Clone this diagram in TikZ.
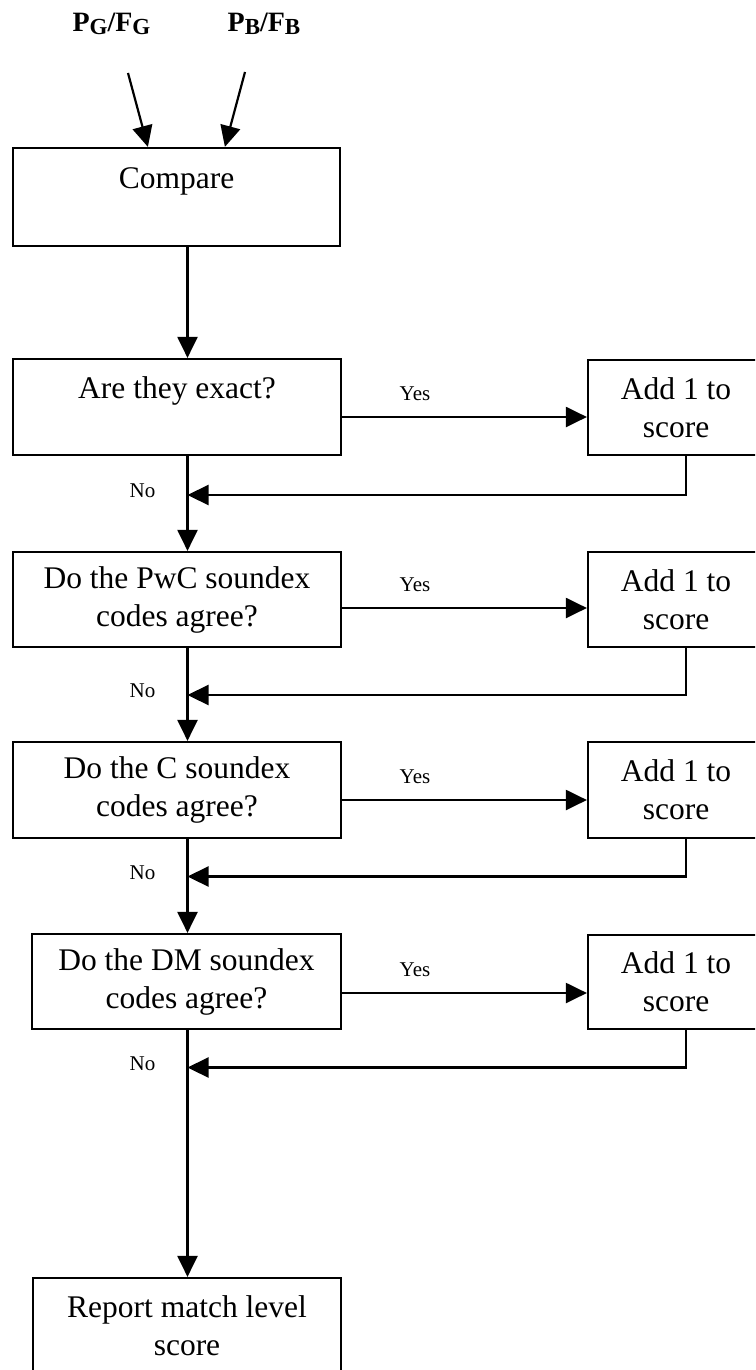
\documentclass[tikz,border=0pt]{standalone}
\usepackage{fontspec}
\setmainfont{Liberation Serif}
\usetikzlibrary{arrows.meta,calc}
\newcommand{\subG}[1]{\raisebox{-3pt}{\fontsize{23}{23}\selectfont #1}}
\begin{document}
\begin{tikzpicture}[x=1pt,y=-1pt,
  box/.style={draw,line width=2.2pt,rectangle,inner sep=0pt,align=center,font=\fontsize{31.5}{38}\selectfont},
  arr/.style={line width=2.2pt,-{Triangle[length=21pt,width=20pt]}},
  ln/.style={line width=2.2pt},
  small/.style={font=\fontsize{21}{21}\selectfont,inner sep=0pt},
  toplab/.style={font=\bfseries\fontsize{28}{28}\selectfont,inner sep=0pt,anchor=base}]
\useasboundingbox (0,0) rectangle (755,1370);
\clip (0,0) rectangle (755,1370);
\fill[white] (0,0) rectangle (755,1370);

% labels on top
\node[toplab] (pg) at (111.5,32) {P\subG{G}/F\subG{G}};
\node[toplab] (pb) at (264,32) {P\subG{B}/F\subG{B}};
\coordinate (pgs) at (128,73);
\coordinate (pbs) at (245,72);

% main column
\node[box,minimum width=327pt,minimum height=98pt] (cmp) at (176.5,197) {Compare\\\mbox{}};
\node[box,minimum width=328pt,minimum height=96pt] (ex) at (177,407) {Are they exact?\\\mbox{}};
\node[box,minimum width=328pt,minimum height=95pt] (pwc) at (177,599.5) {Do the PwC soundex\\codes agree?};
\node[box,minimum width=328pt,minimum height=96pt] (cc) at (177,790) {Do the C soundex\\codes agree?};
\node[box,minimum width=309pt,minimum height=95pt] (dm) at (186.5,981.5) {Do the DM soundex\\codes agree?};
\node[box,minimum width=308pt,minimum height=96pt] (rep) at (187,1326) {Report match level\\score};

% add boxes
\node[box,minimum width=176pt,minimum height=95pt] (a1) at (676,407.5) {Add 1 to\\score};
\node[box,minimum width=176pt,minimum height=95pt] (a2) at (676,599.5) {Add 1 to\\score};
\node[box,minimum width=176pt,minimum height=96pt] (a3) at (676,790) {Add 1 to\\score};
\node[box,minimum width=176pt,minimum height=94pt] (a4) at (676,982) {Add 1 to\\score};

% spine and junctions
\coordinate (sp) at (187.5,0);
\coordinate (j1) at (187.5,495);
\coordinate (j2) at (187.5,695);
\coordinate (j3) at (187.5,876.5);
\coordinate (j4) at (187.5,1067.5);

% input arrows
\draw[arr] (pgs) -- ($(cmp.north west)+(136,0)$);
\draw[arr] (pbs) -- ($(cmp.north west)+(213,0)$);

% downward flow
\draw[arr] (cmp.south -| sp) -- (ex.north -| sp);
\draw[arr] (ex.south -| sp) -- (pwc.north -| sp);
\draw[arr] (pwc.south -| sp) -- (cc.north -| sp);
\draw[arr] (cc.south -| sp) -- (dm.north -| sp);
\draw[arr] (dm.south -| sp) -- (rep.north -| sp);

% yes arrows
\coordinate (y1) at ($(ex.east)+(0,10)$);
\coordinate (y2) at ($(pwc.east)+(0,8.5)$);
\coordinate (y3) at ($(cc.east)+(0,10)$);
\coordinate (y4) at ($(dm.east)+(0,11.5)$);
\draw[arr] (y1) -- (y1 -| a1.west);
\draw[arr] (y2) -- (y2 -| a2.west);
\draw[arr] (y3) -- (y3 -| a3.west);
\draw[arr] (y4) -- (y4 -| a4.west);

% return arrows
\coordinate (r1) at ($(a1.south)+(10,0)$);
\coordinate (r2) at ($(a2.south)+(10,0)$);
\coordinate (r3) at ($(a3.south)+(10,0)$);
\coordinate (r4) at ($(a4.south)+(10,0)$);
\draw[arr] (r1) |- (j1);
\draw[arr] (r2) |- (j2);
\draw[arr] (r3) |- (j3);
\draw[arr] (r4) |- (j4);

% Yes / No labels
\node[small,anchor=base] (yes1) at (415,400) {Yes};
\node[small,anchor=base] (yes2) at (415,591) {Yes};
\node[small,anchor=base] (yes3) at (415,783) {Yes};
\node[small,anchor=base] (yes4) at (415,976) {Yes};
\node[small] (no1) at (142.5,491) {No};
\node[small] (no2) at (142.5,691) {No};
\node[small] (no3) at (142.5,872.5) {No};
\node[small] (no4) at (142.5,1063.5) {No};
\end{tikzpicture}
\end{document}
